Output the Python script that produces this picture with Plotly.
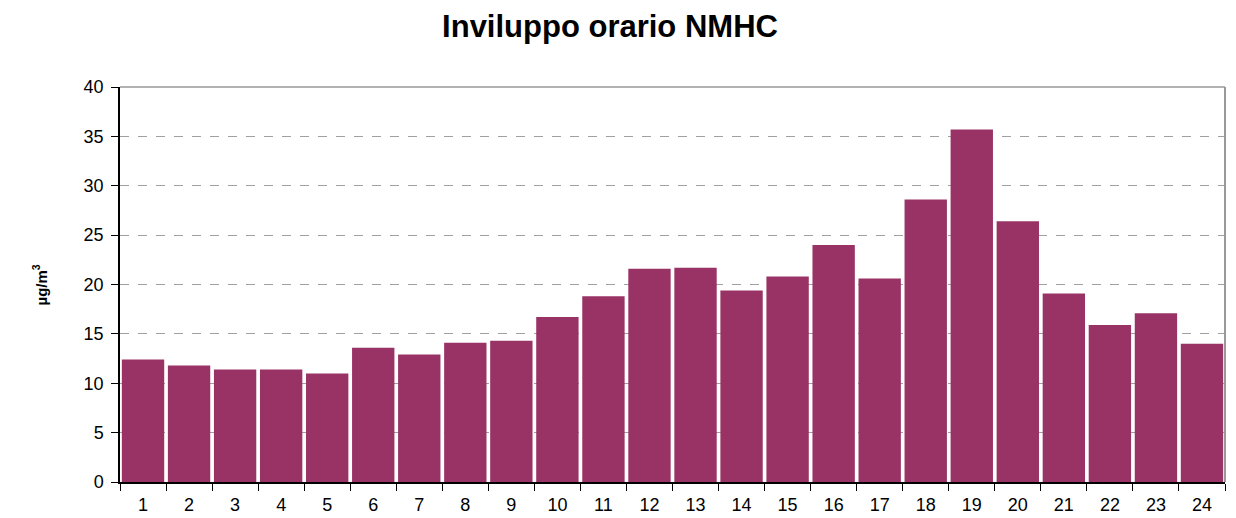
import plotly.graph_objects as go

hours = [str(i) for i in range(1, 25)]
values = [12.4, 11.8, 11.4, 11.4, 11.0, 13.6, 12.9, 14.1, 14.3, 16.7, 18.8, 21.6,
          21.7, 19.4, 20.8, 24.0, 20.6, 28.6, 35.7, 26.4, 19.1, 15.9, 17.1, 14.0]
y_ticks = [0, 5, 10, 15, 20, 25, 30, 35, 40]

# page body adds an 8px offset; margins compensate so the plot lands at x 120-1225, y 87-482
OFF = 8
W, H = 1236, 518
L, R, T, B = 120 - OFF, W - 1225 + OFF, 87 - OFF, H - 482 + OFF
pw = W - L - R

fig = go.Figure(go.Bar(x=hours, y=values, marker_color="#993366", marker_line_width=0))

fig.update_layout(
    width=W, height=H,
    margin=dict(l=L, r=R, t=T, b=B, autoexpand=False),
    paper_bgcolor="white", plot_bgcolor="white",
    bargap=0.08,
    showlegend=False,
    title=dict(text="<b>Inviluppo orario NMHC</b>", x=(610 - OFF) / W, xanchor="center",
               y=1 - (26 - OFF) / H, yanchor="middle",
               font=dict(family="Liberation Sans, Arial", size=31, color="black")),
    font=dict(family="Liberation Sans, Arial", size=18, color="black"),
    xaxis=dict(type="category", ticks="outside", tickson="boundaries", ticklen=7,
               tickcolor="black", showline=True, linecolor="black", linewidth=1.5,
               showgrid=False, tickfont=dict(size=18), automargin=False,
               ticklabelstandoff=6),
    yaxis=dict(range=[0, 40], tickvals=y_ticks, ticks="outside", ticklen=7,
               tickcolor="black", showline=True, linecolor="black", linewidth=1.5,
               showgrid=True, gridcolor="#a0a0a0", griddash="dash", gridwidth=1,
               zeroline=False, tickfont=dict(size=18), automargin=False,
               ticklabelstandoff=4),
    annotations=[
        dict(text="<b>µg/m<sup>3</sup></b>", xref="paper", yref="paper",
             x=(40 - OFF - L) / pw, y=0.5, xanchor="center", yanchor="middle",
             textangle=-90, showarrow=False,
             font=dict(family="Liberation Sans, Arial", size=15, color="black")),
    ],
    shapes=[
        dict(type="line", xref="paper", yref="paper", x0=0, x1=1, y0=1, y1=1,
             line=dict(color="#999999", width=1.5)),
        dict(type="line", xref="paper", yref="paper", x0=1, x1=1, y0=0, y1=1,
             line=dict(color="#999999", width=2)),
    ],
)

fig.write_html("out.html")
